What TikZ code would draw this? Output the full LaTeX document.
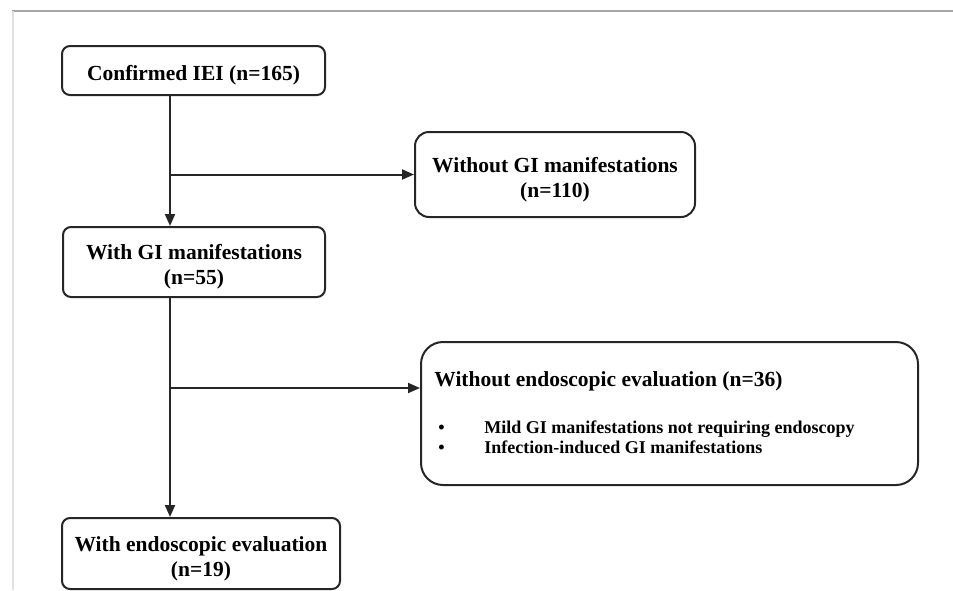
\documentclass[tikz,border=0pt]{standalone}
\usepackage{fontspec}
\setmainfont{Liberation Serif}
\usetikzlibrary{arrows.meta,positioning}

% box text sits a little below the middle of its box
\newcommand{\boxlabel}[1]{\raisebox{-2.5pt}[\height][\depth]{\begin{tabular}{@{}c@{}}#1\end{tabular}}}

\begin{document}
\begin{tikzpicture}[x=0.5pt,y=-0.5pt,
	box/.style={draw=black!85,line width=1pt,rounded corners=4pt,inner sep=0pt,
		font=\fontsize{10.75}{12.5}\selectfont\bfseries},
	boxtext/.style={anchor=base west,inner sep=0pt,font=\fontsize{10.75}{12.5}\selectfont\bfseries},
	itemtext/.style={anchor=base west,inner sep=0pt,font=\fontsize{9}{11}\selectfont\bfseries},
	link/.style={draw=black!85,line width=1pt},
	arr/.style={link,-{Triangle[length=6pt,width=5pt]}}]

	\useasboundingbox (0,0) rectangle (953,590);

	% page frame
	\draw[black!35,line width=0.75pt] (12,11) -- (953,11);
	\draw[black!12,line width=1.2pt] (13,11) -- (13,590);

	% main column
	\node[box,minimum width=131.5pt,minimum height=24.5pt] (iei) at (193.5,70.5) {\boxlabel{Confirmed IEI (n=165)}};
	\node[box,minimum width=131pt,minimum height=35pt] (gi) at (194,262) {\boxlabel{With GI manifestations\\(n=55)}};
	\node[box,minimum width=139pt,minimum height=35.5pt] (endo) at (201,553.5) {\boxlabel{With endoscopic evaluation\\(n=19)}};

	% excluded
	\node[box,rounded corners=7pt,minimum width=140pt,minimum height=42.5pt] (nogi) at (555,174.5) {\boxlabel{Without GI manifestations\\(n=110)}};
	\node[box,rounded corners=11pt,minimum width=248.5pt,minimum height=71.5pt] (noendo) at (669.5,413.5) {};
	\node[boxtext] (noendotitle) at ([xshift=7pt,yshift=-22.5pt]noendo.north west) {Without endoscopic evaluation (n=36)};
	\node[itemtext] (dota) at ([xshift=9pt,yshift=-46pt]noendo.north west) {•};
	\node[itemtext] (itema) at ([xshift=32pt,yshift=-46pt]noendo.north west) {Mild GI manifestations not requiring endoscopy};
	\node[itemtext] (dotb) at ([xshift=9pt,yshift=-56pt]noendo.north west) {•};
	\node[itemtext] (itemb) at ([xshift=32pt,yshift=-56pt]noendo.north west) {Infection-induced GI manifestations};

	% connectors
	\coordinate (trunk) at (170,0);
	\coordinate (split) at (170,388);
	\draw[arr] (iei.south -| trunk) -- (gi.north -| trunk);
	\draw[arr] (trunk |- nogi.west) -- (nogi.west);
	\draw[arr] (gi.south -| trunk) -- (endo.north -| trunk);
	\draw[arr] (split) -- (split -| noendo.west);
\end{tikzpicture}
\end{document}
